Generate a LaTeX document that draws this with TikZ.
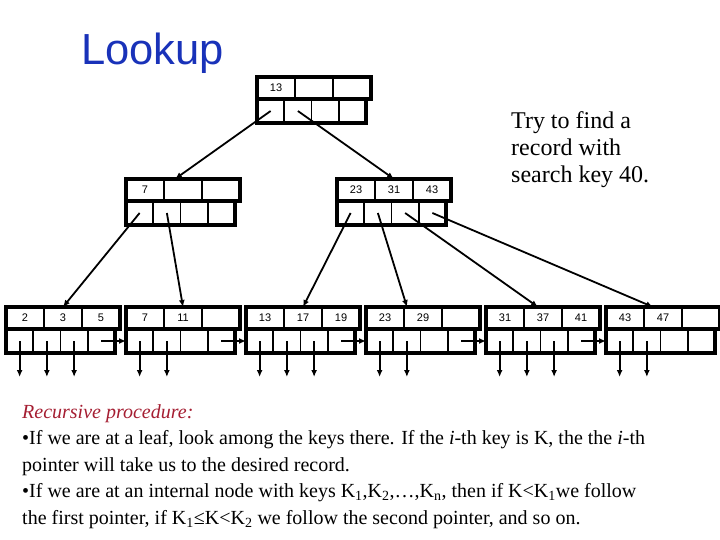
\documentclass[tikz,border=0pt]{standalone}
\usepackage{fontspec}
\setmainfont{Liberation Serif}
\setsansfont{Liberation Sans}
\usetikzlibrary{positioning,arrows.meta}

\definecolor{titleblue}{RGB}{25,50,185}
\definecolor{procred}{RGB}{165,30,50}

\tikzset{
  keycell/.style={draw, line width=1.8pt, minimum width=38pt, minimum height=22pt,
    inner sep=0pt, outer sep=0pt, font=\sffamily\fontsize{11}{13}\selectfont},
  ptrcell/.style={draw, line width=1.8pt, minimum width=27.25pt, minimum height=24pt,
    inner sep=0pt, outer sep=0pt},
  rowframe/.style={draw, line width=3.4pt},
  ptr/.style={line width=1.8pt, -{Latex[length=7pt,width=6pt]}}
}

% one B+ tree block: name, x, y, three keys
\newcommand{\bplusblock}[6]{%
  \node[keycell] (#1k1) at (#2+19,#3+11) {#4};
  \node[keycell, right=0pt of #1k1] (#1k2) {#5};
  \node[keycell, right=0pt of #1k2] (#1k3) {#6};
  \node[ptrcell, anchor=north west] (#1p1) at (#1k1.south west) {};
  \node[ptrcell, right=0pt of #1p1] (#1p2) {};
  \node[ptrcell, right=0pt of #1p2] (#1p3) {};
  \node[ptrcell, right=0pt of #1p3] (#1p4) {};
  \draw[rowframe] (#1k1.north west) rectangle (#1k3.south east);
  \draw[rowframe] (#1p1.north west) rectangle (#1p4.south east);
}

\begin{document}
\begin{tikzpicture}[x=1pt, y=-1pt]
\useasboundingbox (0,0) rectangle (720,540);

\node[font=\sffamily\fontsize{43.5}{50}\selectfont, text=titleblue, anchor=base west,
  inner sep=0pt] (title) at (81,65) {Lookup};

% the tree
\bplusblock{root}{257}{77}{13}{}{}
\bplusblock{ia}{126}{179}{7}{}{}
\bplusblock{ib}{337}{179}{23}{31}{43}
\bplusblock{la}{6}{307}{2}{3}{5}
\bplusblock{lb}{126}{307}{7}{11}{}
\bplusblock{lc}{246}{307}{13}{17}{19}
\bplusblock{ld}{366}{307}{23}{29}{}
\bplusblock{le}{486}{307}{31}{37}{41}
\bplusblock{lf}{606}{307}{43}{47}{}

\draw[ptr] (rootp1.center) -- ([xshift=-8pt]iak2.north);
\draw[ptr] (rootp2.center) -- (ibk2.north);
\draw[ptr] (iap1.center) -- (lak2.north);
\draw[ptr] (iap2.center) -- (lbk2.north);
\draw[ptr] (ibp1.center) -- (lck2.north);
\draw[ptr] (ibp2.center) -- ([xshift=-16pt]ldk2.north);
\draw[ptr] (ibp3.center) -- ([xshift=-5pt]lek2.north);
\draw[ptr] (ibp4.center) -- ([xshift=-10pt]lfk2.north);

% record pointers and next-leaf pointers
\foreach \lf/\n in {la/3,lb/2,lc/3,ld/2,le/3,lf/2}
  \foreach \i in {1,...,\n}
    \draw[ptr] (\lf p\i.center) -- +(0,36);
\foreach \a/\b in {la/lb,lb/lc,lc/ld,ld/le,le/lf}
  \draw[ptr] (\a p4.center) -- (\b p1.west);

\node[anchor=north west, align=left, inner sep=0pt,
  font=\fontsize{24}{27}\selectfont] (hint) at (511,111)
  {Try to find a\\record with\\search key 40.};

\node[anchor=north west, align=left, inner sep=0pt,
  font=\fontsize{20}{26.5}\selectfont] (proc) at (22,404)
  {{\color{procred}\itshape Recursive procedure:}\\
   •If we are at a leaf, look among the keys there. If the \textit{i}-th key is K, the the \textit{i}-th\\
   pointer will take us to the desired record.\\
   •If we are at an internal node with keys K\textsubscript{1},K\textsubscript{2},…,K\textsubscript{n}, then if K<K\textsubscript{1}we follow\\
   the first pointer, if K\textsubscript{1}≤K<K\textsubscript{2} we follow the second pointer, and so on.};
\end{tikzpicture}
\end{document}
